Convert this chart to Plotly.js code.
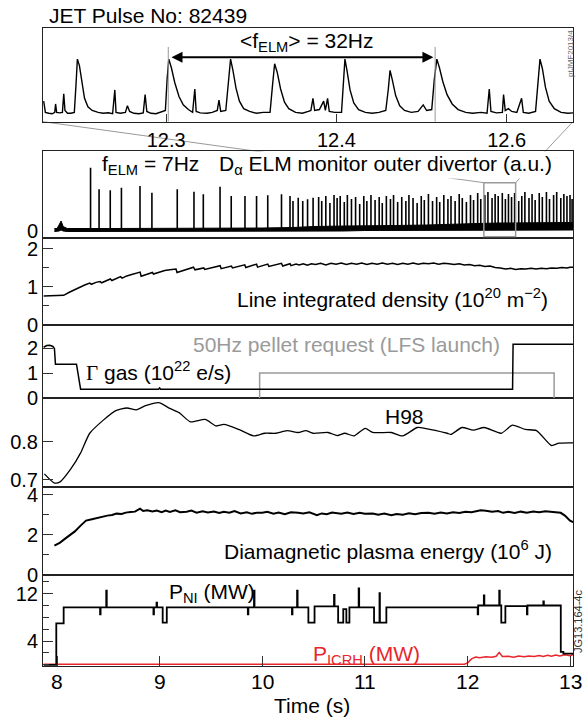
<!DOCTYPE html>
<html>
<head>
<meta charset="utf-8">
<script src="https://cdn.plot.ly/plotly-3.0.1.min.js"></script>
<style>html,body{margin:0;padding:0;background:#fff}#chart{width:584px;height:718px}</style>
</head>
<body>
<div id="chart"></div>
<script>
// ---------------- DATA ----------------
// Inset: D-alpha ELM monitor, zoom 12.23-12.54 s (a.u.)
const INSET_T = [12.2280,12.2290,12.2310,12.2330,12.2345,12.2350,12.2356,12.2375,12.2390,12.2398,12.2405,12.2420,12.2440,12.2460,12.2470,12.2478,12.2490,12.2505,12.2520,12.2540,12.2565,12.2600,12.2630,12.2660,12.2685,12.2698,12.2705,12.2730,12.2760,12.2772,12.2785,12.2810,12.2840,12.2865,12.2876,12.2886,12.2910,12.2940,12.2970,12.2995,12.3005,12.3015,12.3030,12.3050,12.3075,12.3100,12.3130,12.3155,12.3168,12.3176,12.3200,12.3240,12.3270,12.3300,12.3310,12.3320,12.3350,12.3365,12.3378,12.3392,12.3410,12.3430,12.3455,12.3490,12.3530,12.3570,12.3610,12.3625,12.3637,12.3652,12.3672,12.3695,12.3720,12.3760,12.3800,12.3835,12.3850,12.3862,12.3872,12.3900,12.3925,12.3935,12.3948,12.3958,12.3990,12.4030,12.4042,12.4050,12.4062,12.4080,12.4102,12.4130,12.4170,12.4210,12.4250,12.4290,12.4305,12.4315,12.4328,12.4348,12.4372,12.4400,12.4440,12.4480,12.4510,12.4530,12.4560,12.4575,12.4590,12.4605,12.4625,12.4650,12.4680,12.4715,12.4760,12.4800,12.4850,12.4885,12.4898,12.4908,12.4940,12.4975,12.4982,12.4992,12.5010,12.5030,12.5060,12.5088,12.5098,12.5130,12.5170,12.5185,12.5196,12.5210,12.5228,12.5250,12.5280,12.5320,12.5360,12.5390];
const INSET_V = [0.22,0.10,0.09,0.085,0.10,0.19,0.10,0.095,0.10,0.30,0.12,0.09,0.09,0.10,0.40,0.67,0.60,0.40,0.25,0.16,0.12,0.10,0.09,0.095,0.085,0.34,0.10,0.09,0.10,0.17,0.11,0.09,0.085,0.095,0.29,0.11,0.09,0.085,0.10,0.12,0.45,0.67,0.58,0.42,0.27,0.18,0.13,0.10,0.35,0.11,0.095,0.09,0.10,0.12,0.23,0.11,0.12,0.45,0.67,0.55,0.36,0.22,0.14,0.11,0.09,0.10,0.10,0.40,0.62,0.53,0.35,0.21,0.14,0.10,0.09,0.11,0.12,0.25,0.12,0.13,0.22,0.12,0.25,0.11,0.10,0.10,0.45,0.67,0.55,0.34,0.20,0.13,0.10,0.09,0.10,0.12,0.35,0.55,0.45,0.28,0.17,0.12,0.10,0.11,0.18,0.12,0.13,0.45,0.67,0.58,0.43,0.29,0.19,0.13,0.10,0.09,0.10,0.09,0.35,0.11,0.095,0.10,0.29,0.12,0.14,0.11,0.10,0.25,0.10,0.09,0.11,0.40,0.67,0.57,0.37,0.22,0.14,0.10,0.09,0.095];
const INSET_ELM_MARKS = [12.3012, 12.458];   // start/end of <f_ELM> interval
const INSET_TICKS = [12.3, 12.4, 12.5];
const INSET_TICKTEXT = ['12.3', '12.4', '12.6'];

// Main D-alpha: ELM spike times (s) and heights (a.u.)
const DA_SPIKE_T = [8.327,8.41,8.519,8.628,8.809,8.925,9.172,9.335,9.426,9.589,9.698,9.832,9.945,10.054,10.188,10.271,10.30,10.351,10.395,10.442,10.496,
  10.55,10.58,10.62,10.66,10.70,10.73,10.76,10.80,10.83,10.87,10.91,10.95,10.99,11.02,11.06,11.10,11.14,11.17,11.21,11.25,11.28,11.32,11.36,11.40,11.43,11.47,11.51,11.55,11.58,11.62,11.66,11.70,11.73,11.77,11.81,11.84,11.88,11.92,11.95,11.99,12.03,12.06,12.10,12.13,12.17,12.20,12.24,12.27,12.30,12.34,12.37,12.40,12.43,12.46,12.50,12.53,12.56,12.60,12.63,12.66,12.70,12.73,12.77,12.80,12.84,12.87,12.91,12.94,12.97,13.00,13.02];
const DA_SPIKE_H = [6.33,4.17,4.07,4.33,4.5,3.83,4.17,3.93,3.67,4.43,3.5,3.5,3.5,3.57,3.67,3.5,3.0,3.33,3.0,3.17,3.33,
  3.4,3.0,3.5,2.8,3.6,3.3,3.5,2.9,3.6,3.2,3.4,2.7,3.5,3.0,3.6,3.1,3.4,2.8,3.5,3.2,3.6,2.9,3.4,3.0,3.6,3.3,2.8,3.5,3.1,3.7,3.0,3.4,2.9,3.6,3.2,3.5,3.0,3.7,3.3,2.9,3.6,3.1,3.8,3.2,3.6,3.9,3.3,3.7,3.5,3.8,3.2,3.7,3.4,3.8,3.0,3.5,3.9,3.3,3.7,3.1,3.8,3.4,3.9,3.2,3.6,3.9,3.3,3.7,3.5,3.6,3.2];
const DA_BASE_T  = [7.975,8.00,8.02,8.04,8.06,8.10,8.5,9.0,9.5,10.0,10.3,10.5,10.8,11.0,11.3,11.6,11.9,12.1,12.3,12.5,12.7,12.9,13.03];
const DA_BASE_LO = [-0.05,-0.05,0.0,0.1,0.0,-0.05,-0.05,-0.05,-0.05,-0.05,0.0,0.0,0.0,0.05,0.05,0.05,0.05,0.1,0.1,0.1,0.1,0.1,0.1];
const DA_BASE_HI = [0.25,0.25,0.6,1.0,0.45,0.25,0.25,0.25,0.25,0.3,0.35,0.45,0.5,0.55,0.55,0.6,0.65,0.75,0.8,0.8,0.8,0.85,0.85];
const ZOOM_WINDOW = [12.16, 12.47];   // grey box marking inset interval
const ZOOM_BOX_TOP = 4.83;

// Line integrated density (1e20 m^-2)
const DENS_T = [7.87,7.95,8.065,8.12,8.17,8.22,8.27,8.32,8.335,8.38,8.42,8.435,8.49,8.52,8.535,8.58,8.62,8.635,8.68,8.72,8.78,8.81,8.82,8.87,8.93,8.94,8.99,9.05,9.10,9.16,9.17,9.23,9.29,9.33,9.345,9.40,9.43,9.44,9.50,9.55,9.59,9.60,9.66,9.70,9.71,9.77,9.83,9.84,9.90,9.945,9.955,10.0,10.054,10.065,10.12,10.188,10.20,10.24,10.271,10.28,10.33,10.36,10.40,10.44,10.48,10.52,10.57,10.62,10.67,10.72,10.77,10.82,10.87,10.92,10.97,11.02,11.07,11.12,11.17,11.22,11.27,11.32,11.37,11.42,11.47,11.52,11.57,11.62,11.67,11.72,11.77,11.82,11.87,11.92,11.97,12.02,12.07,12.12,12.17,12.22,12.27,12.32,12.37,12.42,12.47,12.52,12.57,12.62,12.67,12.72,12.77,12.82,12.87,12.92,12.97,13.0,13.03];
const DENS_V = [0.76,0.77,0.78,0.86,0.93,0.99,1.05,1.10,1.07,1.12,1.14,1.11,1.18,1.21,1.17,1.22,1.27,1.23,1.29,1.32,1.37,1.39,1.28,1.33,1.38,1.34,1.39,1.43,1.45,1.47,1.38,1.43,1.48,1.52,1.45,1.49,1.50,1.46,1.50,1.53,1.56,1.48,1.52,1.55,1.50,1.54,1.58,1.51,1.56,1.60,1.52,1.56,1.60,1.54,1.58,1.62,1.55,1.59,1.61,1.56,1.60,1.58,1.61,1.57,1.61,1.59,1.62,1.58,1.62,1.60,1.63,1.59,1.62,1.60,1.63,1.59,1.62,1.60,1.63,1.60,1.62,1.59,1.62,1.60,1.63,1.60,1.62,1.61,1.63,1.60,1.62,1.61,1.59,1.61,1.58,1.59,1.56,1.57,1.54,1.55,1.51,1.50,1.47,1.49,1.46,1.48,1.47,1.49,1.47,1.49,1.48,1.50,1.49,1.51,1.50,1.52,1.52];

// Gas fuelling (1e22 e/s) and pellet request
const GAS_T = [7.87,7.90,7.93,7.96,7.975,7.985,8.19,8.23,8.99,9.0,9.01,12.44,12.445,13.03];
const GAS_V = [2.05,2.12,2.13,2.08,2.0,1.37,1.37,0.37,0.37,0.42,0.37,0.37,2.17,2.17];
const PELLET_T = [9.975,9.975,12.845,12.845];
const PELLET_V = [0,1.02,1.02,0];

// H98
const H98_T = [7.877,7.975,8.03,8.138,8.229,8.319,8.446,8.573,8.682,8.773,8.864,8.991,9.099,9.19,9.299,9.444,9.553,9.626,9.771,9.916,10.025,10.134,10.242,10.351,10.424,10.496,10.641,10.732,10.805,10.895,11.004,11.077,11.258,11.367,11.512,11.585,11.803,11.839,11.948,12.057,12.165,12.329,12.438,12.565,12.673,12.819,12.891,13.0,13.03];
const H98_V = [0.716,0.692,0.695,0.730,0.770,0.822,0.855,0.881,0.888,0.883,0.894,0.902,0.887,0.876,0.852,0.858,0.841,0.845,0.832,0.815,0.822,0.822,0.829,0.824,0.829,0.822,0.824,0.816,0.822,0.815,0.835,0.824,0.824,0.815,0.837,0.835,0.822,0.819,0.837,0.830,0.837,0.822,0.843,0.832,0.829,0.790,0.796,0.797,0.797];

// Diamagnetic plasma energy (MJ)
const W_T = [7.975,8.03,8.083,8.13,8.174,8.23,8.283,8.33,8.392,8.44,8.49,8.537,8.58,8.63,8.67,8.718,8.76,8.809,8.84,8.88,8.93,8.972,9.02,9.06,9.10,9.154,9.2,9.263,9.31,9.36,9.42,9.47,9.53,9.58,9.626,9.68,9.73,9.79,9.85,9.9,9.95,10.0,10.05,10.11,10.16,10.22,10.28,10.35,10.4,10.46,10.533,10.58,10.63,10.68,10.714,10.77,10.83,10.89,10.95,11.0,11.077,11.13,11.19,11.258,11.31,11.37,11.43,11.49,11.55,11.621,11.68,11.74,11.8,11.86,11.92,11.98,12.04,12.129,12.18,12.24,12.3,12.347,12.4,12.46,12.52,12.58,12.64,12.7,12.76,12.819,12.87,12.909,12.95,13.0,13.03];
const W_V = [1.45,1.6,1.81,1.98,2.16,2.45,2.7,2.76,2.83,2.92,2.95,2.98,3.05,3.03,3.1,3.13,3.15,3.3,3.18,3.22,3.16,3.2,3.12,3.2,3.14,3.22,3.12,3.14,3.2,3.1,3.17,3.11,3.16,3.08,3.14,3.1,3.18,3.06,3.12,3.04,3.1,3.09,3.14,3.05,3.1,3.02,3.12,3.09,3.06,3.12,2.97,3.06,3.02,3.1,3.09,3.04,3.1,3.03,3.09,3.04,3.06,3.0,3.06,2.97,3.03,3.0,3.07,3.02,3.08,3.09,3.05,3.1,3.06,3.12,3.08,3.14,3.12,3.22,3.2,3.15,3.18,3.09,3.14,3.08,3.15,3.1,3.16,3.12,3.17,3.14,3.1,3.09,2.95,2.7,2.62];

// Heating power (MW): NBI (step-wise, value holds until next time) and ICRH
const PNI_T = [7.87,7.993,8.065,8.42,8.425,8.48,8.485,8.94,8.945,8.97,8.975,9.03,9.07,9.86,9.865,9.92,9.925,10.29,10.295,10.34,10.345,10.45,10.51,10.70,10.705,10.74,10.79,10.82,10.85,10.94,10.945,11.09,11.143,11.147,11.21,12.10,12.105,12.16,12.165,12.31,12.315,12.33,12.37,12.58,12.585,12.74,12.745,12.91,12.935,13.03];
const PNI_V = [0,7.0,9.7,8.5,9.7,12.5,9.7,8.5,9.7,10.5,9.7,7.1,9.7,8.5,9.7,12.5,9.7,8.5,9.7,12.5,9.7,7.1,9.85,11.8,9.85,7.1,9.4,7.1,9.7,12.9,9.7,7.1,12.1,7.1,9.7,8.5,10.0,11.7,10.0,12.5,10.0,7.1,9.9,8.5,10.0,10.7,10.0,2.2,1.9,1.9];
const PICRH_T = [7.87,11.97,12.0,12.04,12.08,12.12,12.18,12.24,12.28,12.31,12.34,12.40,12.45,12.50,12.55,12.60,12.65,12.70,12.74,12.78,12.82,12.86,12.90,12.95,13.0,13.03];
const PICRH_V = [0.1,0.1,0.3,1.0,1.3,1.2,1.35,1.3,1.45,2.1,1.4,1.45,1.3,1.5,1.35,1.5,1.4,1.55,1.4,1.6,1.45,1.65,1.5,1.7,1.55,1.7];

const TIME_TICKS = [8,9,10,11,12,13];
const TIME_TICKTEXT = ['8','9','10','11','12','13'];

// ---------------- LAYOUT GEOMETRY ----------------
const FONT = 'Liberation Sans, Arial, Helvetica, sans-serif';
const XR = [7.8636, 13.029];
const INSET_XR = [12.2276, 12.539];
const DOM = {
  inset: [0.8305, 0.9606],
  da:    [0.6692, 0.7897],
  dens:  [0.5474, 0.6692],
  gas:   [0.4450, 0.5474],
  h98:   [0.3222, 0.4450],
  w:     [0.1992, 0.3222],
  p:     [0.0724, 0.1992]
};
const DA_R = [-0.65, 8.0];

// spikes as vertical segments
const spkX = [], spkY = [];
DA_SPIKE_T.forEach((t, i) => { spkX.push(t, t, null); spkY.push(0.2, DA_SPIKE_H[i], null); });

const blk = '#000';
const traces = [
  {x: INSET_T, y: INSET_V, xaxis: 'x7', yaxis: 'y7', mode: 'lines', line: {color: blk, width: 1.4}},
  {x: DA_BASE_T, y: DA_BASE_LO, xaxis: 'x6', yaxis: 'y6', mode: 'lines', line: {color: blk, width: 1}},
  {x: DA_BASE_T, y: DA_BASE_HI, xaxis: 'x6', yaxis: 'y6', mode: 'lines', fill: 'tonexty', fillcolor: blk, line: {color: blk, width: 1}},
  {x: spkX, y: spkY, xaxis: 'x6', yaxis: 'y6', mode: 'lines', line: {color: blk, width: 1.6}},
  {x: DENS_T, y: DENS_V, xaxis: 'x5', yaxis: 'y5', mode: 'lines', line: {color: blk, width: 1.5}},
  {x: PELLET_T, y: PELLET_V, xaxis: 'x4', yaxis: 'y4', mode: 'lines', line: {color: '#9a9a9a', width: 1.5}},
  {x: GAS_T, y: GAS_V, xaxis: 'x4', yaxis: 'y4', mode: 'lines', line: {color: blk, width: 1.5}},
  {x: H98_T, y: H98_V, xaxis: 'x3', yaxis: 'y3', mode: 'lines', line: {color: blk, width: 1.3, shape: 'spline', smoothing: 0.6}},
  {x: W_T, y: W_V, xaxis: 'x2', yaxis: 'y2', mode: 'lines', line: {color: blk, width: 2}},
  {x: PICRH_T, y: PICRH_V, xaxis: 'x', yaxis: 'y', mode: 'lines', line: {color: '#e8262b', width: 1.5}},
  {x: PNI_T, y: PNI_V, xaxis: 'x', yaxis: 'y', mode: 'lines', line: {color: blk, width: 1.8, shape: 'hv'}}
];

const axBase = {showline: true, mirror: true, linecolor: '#222', linewidth: 1, showgrid: false, zeroline: false,
  tickfont: {family: FONT, size: 20, color: '#000'}, ticks: 'inside', tickcolor: '#333', tickwidth: 1};
const hiddenX = Object.assign({}, axBase, {range: XR, matches: 'x', showticklabels: false, ticks: ''});

function yax(domain, range, extra) {
  return Object.assign({}, axBase, {domain: domain, range: range, ticklen: 10}, extra);
}

// connector geometry (paper coords) derived from zoom window
const px = t => (t - XR[0]) / (XR[1] - XR[0]);
const boxTopPaper = DOM.da[0] + (ZOOM_BOX_TOP - DA_R[0]) / (DA_R[1] - DA_R[0]) * (DOM.da[1] - DOM.da[0]);

const shapes = [
  {type: 'line', xref: 'paper', yref: 'paper', x0: 0, y0: DOM.inset[0], x1: px(ZOOM_WINDOW[0]), y1: boxTopPaper, line: {color: '#9a9a9a', width: 1}, layer: 'below'},
  {type: 'line', xref: 'paper', yref: 'paper', x0: 1, y0: DOM.inset[0], x1: px(ZOOM_WINDOW[1]), y1: boxTopPaper, line: {color: '#9a9a9a', width: 1}, layer: 'below'},
  {type: 'rect', xref: 'x6', yref: 'y6', x0: ZOOM_WINDOW[0], x1: ZOOM_WINDOW[1], y0: -0.57, y1: ZOOM_BOX_TOP, line: {color: '#9a9a9a', width: 1.5}},
];
INSET_ELM_MARKS.forEach(t => shapes.push({type: 'line', xref: 'x7', yref: 'y7', x0: t, x1: t, y0: 0, y1: 0.8, line: {color: '#9a9a9a', width: 1}}));

const LBL = 21;
function ann(text, xPx, yPx, opts) {
  return Object.assign({xref: 'paper', yref: 'paper', x: (xPx - 43) / 530, y: 1 - yPx / 718, text: text, showarrow: false,
    font: {family: FONT, size: LBL, color: '#000'}, xanchor: 'center', yanchor: 'middle'}, opts || {});
}

const annotations = [
  ann('JET Pulse No: 82439', 47, 15, {xanchor: 'left'}),
  ann('&lt;f<sub>ELM</sub>&gt; = 32Hz', 307, 42),
  ann('f<sub>ELM</sub> = 7Hz', 150, 165),
  ann('D<sub>α</sub> ELM monitor outer divertor (a.u.)', 385, 165, {bgcolor: '#fff', borderpad: 0}),
  ann('Line integrated density (10<sup>20</sup> m<sup>−2</sup>)', 392, 298),
  ann('50Hz pellet request (LFS launch)', 346, 344, {font: {family: FONT, size: LBL, color: '#9a9a9a'}}),
  ann('<span style="font-family:Liberation Serif">Γ</span> gas (10<sup>22</sup> e/s)', 158, 372),
  ann('H98', 404, 416),
  ann('Diamagnetic plasma energy (10<sup>6</sup> J)', 388, 550),
  ann('P<sub>NI</sub> (MW)', 212, 593),
  ann('P<sub>ICRH</sub> (MW)', 366, 655, {font: {family: FONT, size: LBL, color: '#e8262b'}}),
  ann('Time (s)', 312, 705),
  ann('JG13.164-4c', 578, 622, {textangle: -90, font: {family: FONT, size: 11, color: '#333'}}),
  ann('ptJMF2013/4', 571, 54, {textangle: -90, font: {family: FONT, size: 8, color: '#666'}}),
  {xref: 'x7', yref: 'y7', axref: 'x7', ayref: 'y7', x: INSET_ELM_MARKS[1] - 0.001, y: 0.69, ax: INSET_ELM_MARKS[0] + 0.001, ay: 0.69,
   text: '', showarrow: true, arrowhead: 2, arrowside: 'end+start', arrowsize: 1.1, arrowwidth: 2, arrowcolor: '#000'}
];
// time tick labels placed at the data positions of the bottom axis
TIME_TICKS.forEach((t, i) => annotations.push({xref: 'x', yref: 'paper', x: t, y: 1 - 681 / 718, text: TIME_TICKTEXT[i],
  showarrow: false, xanchor: 'center', yanchor: 'middle', font: {family: FONT, size: 21, color: '#000'}}));

const layout = {
  width: 584, height: 718,
  margin: {l: 43, r: 11, t: 0, b: 0},
  paper_bgcolor: '#fff', plot_bgcolor: '#fff',
  showlegend: false,
  font: {family: FONT, size: 20, color: '#000'},
  xaxis: Object.assign({}, axBase, {range: XR, anchor: 'y', tickmode: 'array', tickvals: TIME_TICKS, ticklen: 10, showticklabels: false}),
  xaxis2: Object.assign({}, hiddenX, {anchor: 'y2'}),
  xaxis3: Object.assign({}, hiddenX, {anchor: 'y3'}),
  xaxis4: Object.assign({}, hiddenX, {anchor: 'y4'}),
  xaxis5: Object.assign({}, hiddenX, {anchor: 'y5'}),
  xaxis6: Object.assign({}, hiddenX, {anchor: 'y6'}),
  xaxis7: Object.assign({}, axBase, {range: INSET_XR, anchor: 'y7', tickmode: 'array', tickvals: INSET_TICKS, ticktext: INSET_TICKTEXT, ticklen: 8}),
  yaxis: yax(DOM.p, [-0.2, 15.15], {anchor: 'x', tickmode: 'linear', tick0: 4, dtick: 8, minor: {dtick: 2, ticklen: 6, ticks: 'inside', tickcolor: '#333'}}),
  yaxis2: yax(DOM.w, [-0.02, 4.4], {anchor: 'x2', tickmode: 'linear', tick0: 0, dtick: 2, minor: {dtick: 1, ticklen: 6, ticks: 'inside', tickcolor: '#333'}}),
  yaxis3: yax(DOM.h98, [0.6825, 0.9128], {anchor: 'x3', tickmode: 'array', tickvals: [0.7, 0.8], ticktext: ['0.7', '0.8']}),
  yaxis4: yax(DOM.gas, [0, 2.94], {anchor: 'x4', tickmode: 'linear', tick0: 0, dtick: 1}),
  yaxis5: yax(DOM.dens, [0, 2.3], {anchor: 'x5', tickmode: 'linear', tick0: 0, dtick: 1, minor: {dtick: 0.5, ticklen: 6, ticks: 'inside', tickcolor: '#333'}}),
  yaxis6: yax(DOM.da, DA_R, {anchor: 'x6', tickmode: 'array', tickvals: [0], ticks: ''}),
  yaxis7: yax(DOM.inset, [0, 1], {anchor: 'x7', showticklabels: false, ticks: ''}),
  shapes: shapes,
  annotations: annotations
};

Plotly.newPlot('chart', traces, layout, {displayModeBar: false, staticPlot: true});
</script>
</body>
</html>
